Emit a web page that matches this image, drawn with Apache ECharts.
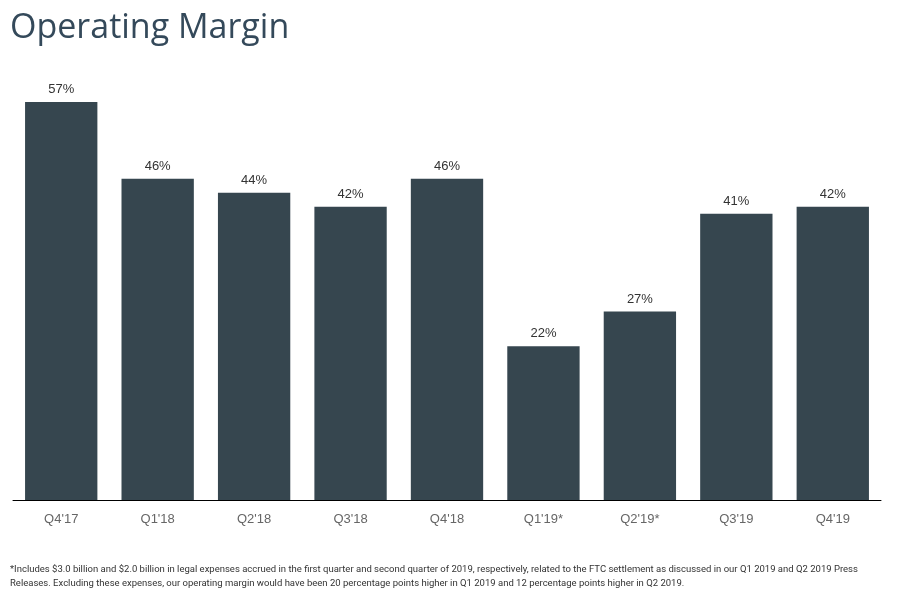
<!DOCTYPE html>
<html>
<head>
<meta charset="utf-8">
<script src="https://cdn.jsdelivr.net/npm/echarts@6/dist/echarts.min.js"></script>
<style>
html,body{margin:0;padding:0;background:#fff;}
#c{width:912px;height:599px;}
</style>
</head>
<body>
<div id="c"></div>
<script>
const categories = ["Q4'17","Q1'18","Q2'18","Q3'18","Q4'18","Q1'19*","Q2'19*","Q3'19","Q4'19"];
const margins = [57,46,44,42,46,22,27,41,42];
const titleText = "Operating Margin";
const footLine1 = "*Includes $3.0 billion and $2.0 billion in legal expenses accrued in the first quarter and second quarter of 2019, respectively, related to the FTC settlement as discussed in our Q1 2019 and Q2 2019 Press";
const footLine2 = "Releases. Excluding these expenses, our operating margin would have been 20 percentage points higher in Q1 2019 and 12 percentage points higher in Q2 2019.";

const chart = echarts.init(document.getElementById('c'));
chart.setOption({
  animation:false,
  title:{text:titleText,left:5,top:6,textStyle:{fontFamily:'Open Sans',fontWeight:'normal',fontSize:34,color:'#34495a'}},
  graphic:[
    {type:'text',left:10,top:565,style:{text:footLine1,fontFamily:'Roboto',fontSize:9.5,fill:'#333'}},
    {type:'text',left:10,top:579,style:{text:footLine2,fontFamily:'Roboto',fontSize:9.5,fill:'#333'}}
  ],
  grid:{left:13,right:31,top:81,bottom:99},
  xAxis:{type:'category',data:categories,
    axisLine:{lineStyle:{color:'#000',width:1}},axisTick:{show:false},
    axisLabel:{color:'#666',fontSize:13,fontFamily:'Liberation Sans',margin:13}},
  yAxis:{type:'value',min:0,max:60,show:false,splitLine:{show:false}},
  series:[{type:'bar',data:margins,barCategoryGap:'25%',
    itemStyle:{color:'#36464f'},
    label:{show:true,position:'top',distance:6,formatter:'{c}%',color:'#333',fontSize:13,fontFamily:'Liberation Sans'}}]
});
</script>
</body>
</html>
